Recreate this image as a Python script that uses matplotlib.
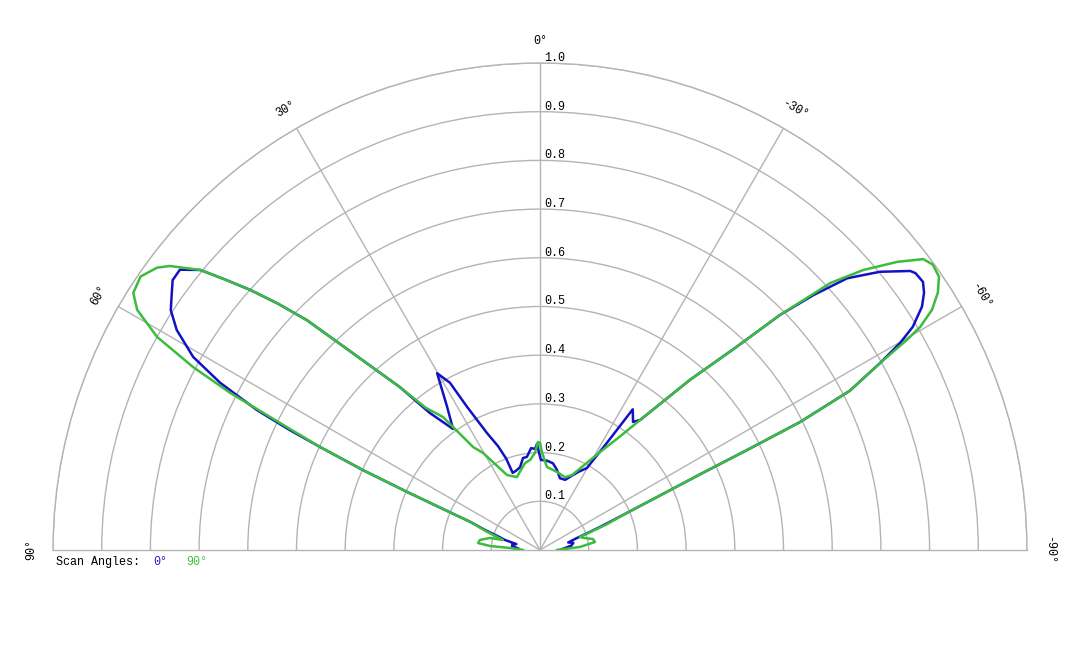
import numpy as np
import matplotlib
matplotlib.use("Agg")
import matplotlib.pyplot as plt

# ---- data (angle in degrees, normalised amplitude) ----
blue_theta = [-90, -86, -82, -78, -75, -72, -70, -69, -67, -65.9, -64.7, -64.2, -63.8,
              -62.8, -61.2, -60.1, -59.1, -57.5, -56.2, -55, -53.6, -53, -50.7, -48.5,
              -47, -45.6, -44, -41.4, -39.8, -37.6, -36, -33.4, -32, -29.8, -26.5,
              -23.7, -19.7, -15.5, -12, -8.5, -4.5, -0.6, 0.6, 1.6, 2.8, 5, 8, 10.5,
              13.5, 16.9, 19.5, 20.3, 22, 24.4, 27, 28.3, 30.2, 33, 35.7, 38.8, 40.7,
              43.7, 45.4, 46.8, 48.1, 49.4, 50.5, 52.1, 53.7, 55.5, 57.0, 58.8, 60.9, 62.4,
              63.7, 64.4, 64.9, 65.7, 66.4, 67.6, 68, 70, 72, 74, 76, 79, 82, 86, 90]
blue_r = [0.04, 0.05, 0.065, 0.07, 0.06, 0.08, 0.11, 0.132, 0.19, 0.247, 0.363, 0.479, 0.595,
          0.715, 0.797, 0.853, 0.892, 0.93, 0.949, 0.96, 0.958, 0.952, 0.902, 0.842,
          0.767, 0.69, 0.577, 0.466, 0.401, 0.337, 0.325, 0.346, 0.26, 0.194, 0.18,
          0.168, 0.153, 0.153, 0.168, 0.18, 0.184, 0.185, 0.2, 0.218, 0.208, 0.21, 0.193, 0.192,
          0.175, 0.17, 0.168, 0.2, 0.23, 0.264, 0.33, 0.39, 0.42, 0.35, 0.306, 0.361, 0.441,
          0.565, 0.672, 0.74, 0.80, 0.855, 0.904, 0.937, 0.936, 0.918, 0.904, 0.872, 0.815, 0.741,
          0.648, 0.569, 0.499, 0.40, 0.298, 0.178, 0.155, 0.12, 0.09, 0.075, 0.05, 0.058, 0.058,
          0.045, 0.04]

green_theta = [-90, -85.7, -81.7, -78.3, -75, -72, -69, -67, -65.9, -64.7, -64.2, -63.8,
               -62.8, -61.2, -60.2, -59.6, -58.5, -57.1, -55.6, -54, -52.8, -51.1, -49.1,
               -47.4, -45.6, -44, -41.4, -39.8, -37.6, -35.1, -31.5, -23.1, -18.9, -12.3,
               -4.8, -1.2, 0, 1.1, 2.9, 6.3, 9.8, 14.4, 17.5, 23.7, 30.4, 33, 36.1, 38.8,
               40.7, 43.7, 45.4, 46.8, 48.1, 49.4, 50.5, 52.5, 53.6, 55.6, 57.7, 59.2, 60.9,
               62.2, 63.1, 64.1, 64.9, 65.7, 66.4, 67.6, 68, 71, 74.9, 76.5, 80.5, 83.6, 85.4,
               86.2, 90]
green_r = [0.035, 0.082, 0.114, 0.111, 0.095, 0.086, 0.145, 0.19, 0.247, 0.363, 0.479, 0.595,
           0.715, 0.797, 0.868, 0.905, 0.944, 0.973, 0.993, 0.997, 0.988, 0.942, 0.878,
           0.81, 0.69, 0.577, 0.466, 0.401, 0.337, 0.284, 0.236, 0.167, 0.158, 0.164,
           0.171, 0.2, 0.22, 0.222, 0.20, 0.186, 0.181, 0.166, 0.157, 0.168, 0.231, 0.252, 0.338,
           0.375, 0.441, 0.565, 0.672, 0.74, 0.80, 0.855, 0.904, 0.958, 0.977, 0.994, 0.988, 0.963,
           0.9, 0.805, 0.714, 0.578, 0.499, 0.40, 0.298, 0.178, 0.155, 0.115, 0.079, 0.106, 0.125,
           0.128, 0.103, 0.062, 0.035]

r_ticks = [0.1, 0.2, 0.3, 0.4, 0.5, 0.6, 0.7, 0.8, 0.9, 1.0]
r_labels = ["0.1", "0.2", "0.3", "0.4", "0.5", "0.6", "0.7", "0.8", "0.9", "1.0"]
theta_ticks = [-90, -60, -30, 0, 30, 60, 90]
theta_labels = ["-90°", "-60°", "-30°", "0°", "30°", "60°", "90°"]
series_names = ["0°", "90°"]

BLUE = "#1212c4"
GREEN = "#3cbc3c"
GRID = "#b4b4b4"
FONT = "Liberation Mono"

W, H = 1080, 648
R = 487.0          # pixel radius of the 1.0 ring
CX, CY = 540.0, 550.0   # centre (pixels from left / top)
side = 2 * R
fig = plt.figure(figsize=(W / 100, H / 100), dpi=100)
# square box; the half-disc wedge is centred vertically inside it
ax = fig.add_axes([(CX - R) / W, (H - CY - side / 4) / H, side / W, side / H],
                  projection="polar")
ax.set_theta_zero_location("N")
ax.set_theta_direction(1)
ax.set_thetamin(-90)
ax.set_thetamax(90)
ax.set_ylim(0, 1.0)

ax.set_rticks(r_ticks)
ax.set_yticklabels([])
ax.set_thetagrids([-60, -30, 0, 30, 60], labels=[""] * 5)
ax.grid(True, color=GRID, linewidth=1.0)
ax.tick_params(length=0)
for s in ax.spines.values():
    s.set_color(GRID)
    s.set_linewidth(1.0)

ax.plot(np.deg2rad(blue_theta), blue_r, color=BLUE, linewidth=1.8, zorder=3)
ax.plot(np.deg2rad(green_theta), green_r, color=GREEN, linewidth=1.8, zorder=4)

for t, lab in zip(theta_ticks, theta_labels):
    ax.text(np.deg2rad(t), 1.045, lab, rotation=t, ha="center", va="center",
            family=FONT, fontsize=8.5, rotation_mode="anchor", clip_on=False)

for rv, lab in zip(r_ticks, r_labels):
    ax.annotate(lab, xy=(0, rv), xytext=(4, 5), textcoords="offset pixels",
                ha="left", va="center", family=FONT, fontsize=8.5)

fig.text(56 / W, 1 - 562 / H, "Scan Angles:", family=FONT, fontsize=8.5,
         color="black", ha="left", va="center")
fig.text(153 / W, 1 - 562 / H, series_names[0], family=FONT, fontsize=8.5,
         color="#2020d0", ha="left", va="center")
fig.text(186 / W, 1 - 562 / H, series_names[1], family=FONT, fontsize=8.5,
         color="#40c040", ha="left", va="center")

fig.savefig("out.png", dpi=100, facecolor="white")
